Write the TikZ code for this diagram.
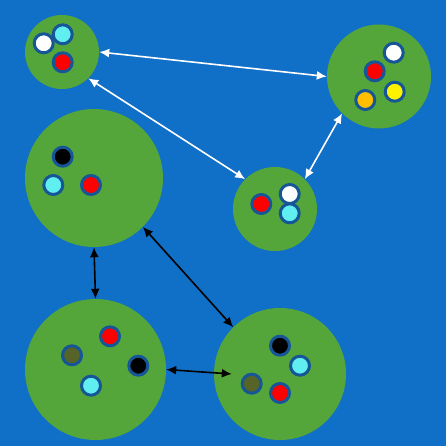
\documentclass[tikz,border=0pt]{standalone}
\usepackage{tikz}
\usetikzlibrary{arrows.meta}

\definecolor{hinter}{RGB}{16,111,198}
\definecolor{gruen}{RGB}{85,166,58}
\definecolor{rand}{RGB}{22,86,150}
\definecolor{tuerkis}{RGB}{96,238,240}
\definecolor{oliv}{RGB}{86,100,40}
\definecolor{gold}{RGB}{255,190,0}

\begin{document}
\begin{tikzpicture}[x=1pt, y=-1pt,
  insel/.style={fill=gruen, circle, inner sep=0pt},
  punkt/.style={draw=rand, line width=3pt, circle, inner sep=0pt, minimum size=19pt},
  pfeil/.style={line width=1.6pt, {Latex[length=10pt,width=9pt]}-{Latex[length=10pt,width=9pt]}}]

\fill[hinter] (0,0) rectangle (446,446);
\useasboundingbox (0,0) rectangle (446,446);

% inseln
\node[insel, minimum size=74pt] (A) at (62,52) {};
\node[insel, minimum size=138pt] (B) at (94,178) {};
\node[insel, minimum size=104pt] (C) at (379,76.5) {};
\node[insel, minimum size=84pt] (D) at (275,209) {};
\node[insel, minimum size=141pt] (E) at (95.5,369.5) {};
\node[insel, minimum size=132pt] (F) at (280,374) {};

% punkte
\node[punkt, fill=white] (A1) at (43.7,43.3) {};
\node[punkt, fill=tuerkis] (A2) at (62.7,34.3) {};
\node[punkt, fill=red] (A3) at (62.7,62.3) {};

\node[punkt, fill=black] (B1) at (62.7,156.7) {};
\node[punkt, fill=tuerkis] (B2) at (53.3,185) {};
\node[punkt, fill=red] (B3) at (91,185) {};

\node[punkt, fill=white] (C1) at (393.7,52.7) {};
\node[punkt, fill=red] (C2) at (374.7,71.3) {};
\node[punkt, fill=yellow] (C3) at (394.7,91.7) {};
\node[punkt, fill=gold] (C4) at (365.3,100) {};

\node[punkt, fill=red] (D1) at (261.3,204) {};
\node[punkt, fill=white] (D2) at (289.7,194) {};
\node[punkt, fill=tuerkis] (D3) at (289.7,213.3) {};

\node[punkt, fill=red] (E1) at (110,336.3) {};
\node[punkt, fill=oliv] (E2) at (72,355.3) {};
\node[punkt, fill=black] (E3) at (138.3,365.7) {};
\node[punkt, fill=tuerkis] (E4) at (91,385.7) {};

\node[punkt, fill=black] (F1) at (280,345.7) {};
\node[punkt, fill=tuerkis] (F2) at (300,365.7) {};
\node[punkt, fill=oliv] (F3) at (251.7,383.7) {};
\node[punkt, fill=red] (F4) at (280,393) {};

% verbindungen
\draw[pfeil, white] (A.east) -- (C.west);
\draw[pfeil, white] (A.-45) -- (D.135);
\draw[pfeil, white] (D.45) -- (C.225);

\draw[pfeil, black] (B.south) -- (E.north);
\draw[pfeil, black] (B.-45) -- (F.135);
\draw[pfeil, black] (E.east) -- ([xshift=18pt]F.west);

\end{tikzpicture}
\end{document}
